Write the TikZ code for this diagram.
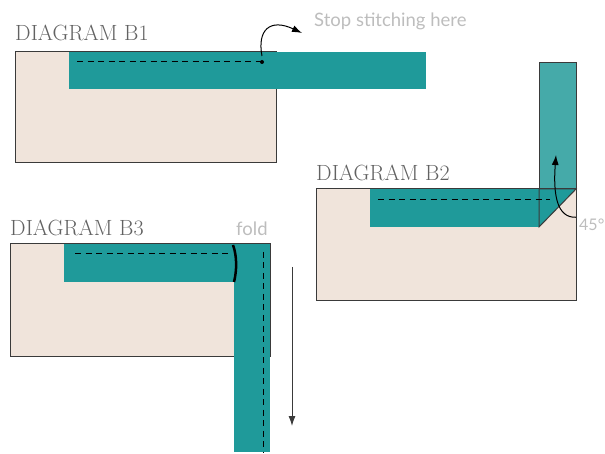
\documentclass[tikz,border=0pt]{standalone}
\usepackage{fontspec}
\usetikzlibrary{arrows.meta}
\newfontfamily\notefont{Lato}
\definecolor{tealband}{HTML}{1F9A9A}
\definecolor{lightteal}{HTML}{45AAA9}
\definecolor{fabric}{HTML}{F0E4DB}
\definecolor{titlegray}{HTML}{626262}
\definecolor{notegray}{HTML}{BDBDBD}
\definecolor{edgegray}{HTML}{3A3A3A}

\begin{document}
\begin{tikzpicture}[x=1pt,y=-1pt,
	fabricpiece/.style={fill=fabric,draw=edgegray,line width=1pt},
	stitch/.style={dashed,dash pattern=on 6pt off 4.5pt,line width=1pt,black},
	title/.style={draw=none,anchor=base west,inner sep=0pt,text=titlegray,font=\fontsize{22}{22}\selectfont},
	note/.style={draw=none,anchor=base west,inner sep=0pt,text=notegray,font=\notefont\fontsize{18.5}{18.5}\selectfont},
	turn/.style={-{Latex[length=10pt,width=7pt]},line width=1pt,black}]
\useasboundingbox (0,0) rectangle (605,454);

\path (15,41) node[title] (titleB1) {DIAGRAM B1};
\draw[fabricpiece] (15,52) rectangle (276,163);
\fill[tealband] (69,52) rectangle (426,89);
\draw[stitch] (77,62) -- (263,62);
\coordinate (stopB1) at (262,62);
\fill (stopB1) circle (2pt);
\path (314,27) node[note] (stoptext) {Stop stitching here};
\draw[turn] (stopB1) ++(0,-6) .. controls (257,30) and (270,18) .. ([xshift=-12pt,yshift=-6pt]stoptext.base west);

\path (316,181) node[title] (titleB2) {DIAGRAM B2};
\draw[fabricpiece] (316,189) rectangle (576,301);
\fill[tealband] (370,189) rectangle (539,227);
\draw[fill=tealband,draw=edgegray,line width=1pt] (539,189) -- (576,189) -- (539,227) -- cycle;
\draw[fill=lightteal,draw=edgegray,line width=1pt] (539,63) rectangle (576,189);
\draw[stitch] (378,200) -- (550,200);
\path (579,231) node[note,font=\notefont\fontsize{16}{16}\selectfont] (angle) {45°};
\coordinate (turnB2) at (556,155);
\draw[turn] (angle.west) ++(-3,-8) .. controls (557,218) and (553,195) .. (turnB2);

\path (10,236) node[title] (titleB3) {DIAGRAM B3};
\path (236,236) node[note] (foldtext) {fold};
\draw[fabricpiece] (10,244) rectangle (270,356);
\fill[tealband] (64,244) rectangle (234,282);
\fill[tealband] (234,244) rectangle (270,452);
\draw[stitch] (75,254) -- (232,254);
\draw[stitch] (263,252) -- (263,452);
\draw[line width=2.5pt,black] (233,245) .. controls (237,256) and (237,270) .. (234,282);
\coordinate (pullstart) at (292,267);
\coordinate (pullend) at (292,426);
\draw[-{Latex[length=10pt,width=7pt]},line width=1pt,edgegray] (pullstart) -- (pullend);
\end{tikzpicture}
\end{document}
